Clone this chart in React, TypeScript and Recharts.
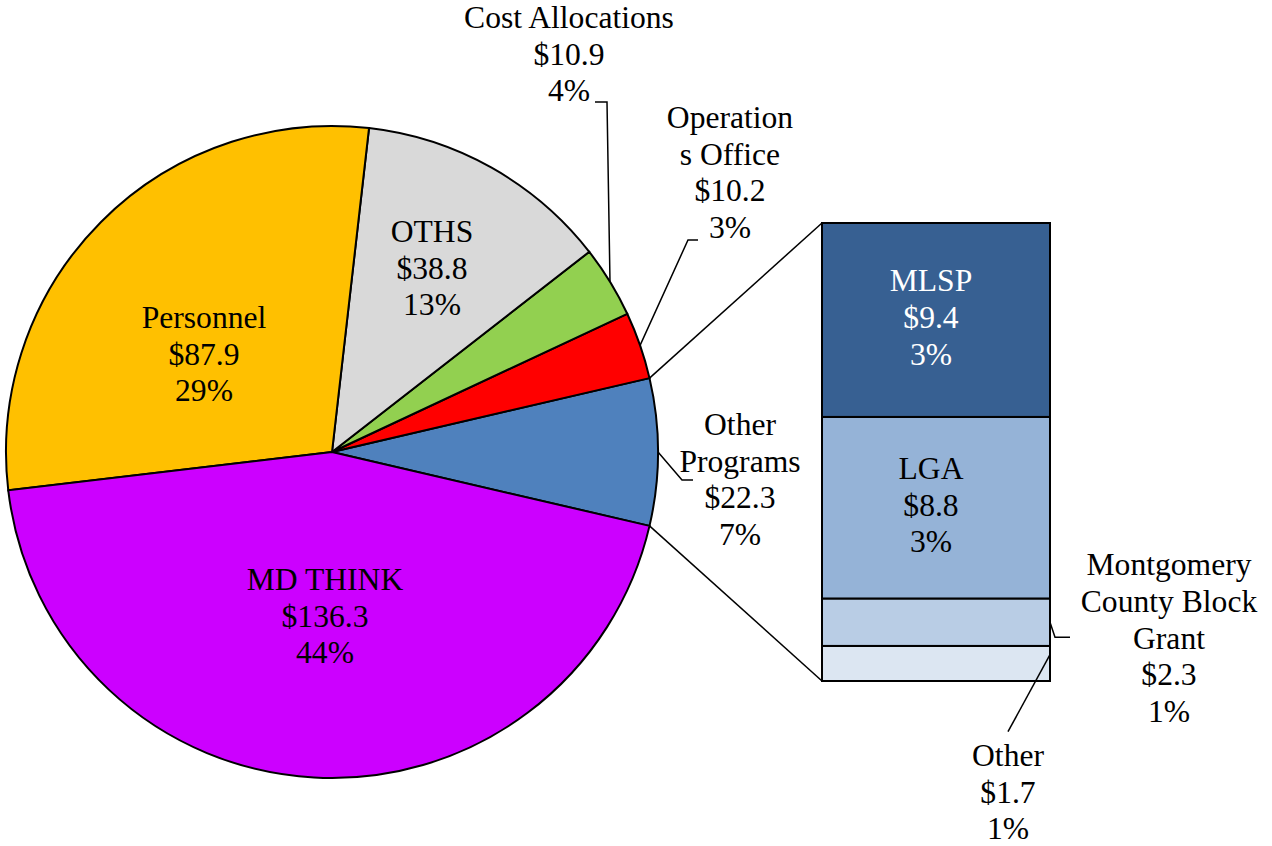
import React from 'react';
import { PieChart, Pie, Cell, BarChart, Bar, XAxis, YAxis } from 'recharts';

// pie slices, counter-clockwise from the split slice on the right
const pieNames = ['Other Programs', 'Operations Office', 'Cost Allocations', 'OTHS', 'Personnel', 'MD THINK'];
const pieValues = [22.3, 10.2, 10.9, 38.8, 87.9, 136.3];
const pieLabelLines = [['Other', 'Programs'], ['Operation', 's Office'], ['Cost Allocations'], ['OTHS'], ['Personnel'], ['MD THINK']];
const pieColors = ['#4f81bd', '#ff0000', '#92d050', '#d9d9d9', '#ffc000', '#cc00ff'];

// breakdown of "Other Programs", bottom to top
const barNames = ['Other', 'Montgomery County Block Grant', 'LGA', 'MLSP'];
const barValues = [1.7, 2.3, 8.8, 9.4];
const barLabelLines = [['Other'], ['Montgomery', 'County Block', 'Grant'], ['LGA'], ['MLSP']];
const barColors = ['#dce6f2', '#b9cde5', '#95b3d7', '#376092'];

const W = 1272;
const H = 846;
const PIE_CX = 332;
const PIE_CY = 452;
const PIE_R = 326;
const FONT = 31.6;
const LINE_H = 36.7;
const FAMILY = "'Liberation Serif', 'Times New Roman', Tinos, 'DejaVu Serif', serif";

const total = pieValues.reduce((a, b) => a + b, 0);
const barTotal = barValues.reduce((a, b) => a + b, 0);
const money = (v: number) => `$${v.toFixed(1)}`;
const pct = (v: number) => `${Math.round((v / total) * 100)}%`;

const splitSweep = (pieValues[0] / total) * 360;
const START = -splitSweep / 2;

const pieData = pieNames.map((name, i) => ({ name, value: pieValues[i] }));
const barRow: Record<string, any> = { name: pieNames[0] };
barNames.forEach((_, i) => { barRow[`s${i}`] = barValues[i]; });

// label anchors relative to the pie centre (first baseline), plus leader elbows
const pieLabelPos: { dx: number; dy: number; leader?: [number, number][] }[] = [
  { dx: 408, dy: -17, leader: [[350, 28], [361, 28]] },
  { dx: 398, dy: -324, leader: [[356, -212], [366, -212]] },
  { dx: 237, dy: -424, leader: [[275, -350], [263, -350]] },
  { dx: 100, dy: -210 },
  { dx: -128, dy: -124 },
  { dx: -7, dy: 138 },
];

const polar = (deg: number, r: number) => {
  const rad = (-deg * Math.PI) / 180;
  return [PIE_CX + r * Math.cos(rad), PIE_CY + r * Math.sin(rad)];
};

const TextBlock = ({ x, y, lines, fill = '#000' }: { x: number; y: number; lines: string[]; fill?: string }) => (
  <text x={x} y={y} textAnchor="middle" style={{ fontFamily: FAMILY, fontSize: FONT }} fill={fill}>
    {lines.map((l, k) => (
      <tspan key={k} x={x} dy={k === 0 ? 0 : LINE_H}>{l}</tspan>
    ))}
  </text>
);

const renderPieLabel = (p: any) => {
  const i = p.index;
  const lay = pieLabelPos[i];
  const lines = [...pieLabelLines[i], money(pieValues[i]), pct(pieValues[i])];
  let leader = null;
  if (lay.leader) {
    const [sx, sy] = polar(p.midAngle, PIE_R);
    const pts = [[sx, sy], ...lay.leader.map(([a, b]) => [PIE_CX + a, PIE_CY + b])];
    leader = <polyline points={pts.map((q) => q.join(',')).join(' ')} fill="none" stroke="#000" strokeWidth={1.5} />;
  }
  return (
    <g key={`pl-${i}`}>
      {leader}
      <TextBlock x={PIE_CX + lay.dx} y={PIE_CY + lay.dy} lines={lines} />
    </g>
  );
};

const makeBarShape = (i: number) => (p: any) => {
  const { x, y, width, height } = p;
  const right = x + width;
  const lines = [...barLabelLines[i], money(barValues[i]), pct(barValues[i])];
  let content = null;
  if (i >= 2) {
    content = (
      <TextBlock x={x + width / 2 - 5} y={y + height / 2 - LINE_H + 8} lines={lines} fill={i === 3 ? '#fff' : '#000'} />
    );
  } else if (i === 1) {
    const my = y + height / 2;
    content = (
      <g>
        <polyline points={`${right},${my} ${right + 5},${my + 15} ${right + 20},${my + 15}`} fill="none" stroke="#000" strokeWidth={1.5} />
        <TextBlock x={right + 119} y={my - 47} lines={lines} />
      </g>
    );
  } else {
    const sy = y + height * 0.25;
    content = (
      <g>
        <line x1={right} y1={sy} x2={right - 42} y2={sy + 77} stroke="#000" strokeWidth={1.5} />
        <TextBlock x={right - 42} y={y + 120} lines={lines} />
      </g>
    );
  }
  let connector = null;
  if (i === 3) {
    const [px, py] = polar(START + splitSweep, PIE_R);
    connector = <line x1={px} y1={py} x2={x} y2={y} stroke="#000" strokeWidth={1.5} />;
  } else if (i === 0) {
    const [px, py] = polar(START, PIE_R);
    connector = <line x1={px} y1={py} x2={x} y2={y + height} stroke="#000" strokeWidth={1.5} />;
  }
  return (
    <g>
      {connector}
      <rect x={x} y={y} width={width} height={height} fill={barColors[i]} stroke="#000" strokeWidth={2} />
      {content}
    </g>
  );
};

export default function App() {
  return (
    <div style={{ position: 'absolute', left: 0, top: 0, width: W, height: H, background: '#fff', fontFamily: FAMILY }}>
      <div style={{ position: 'absolute', left: 0, top: 0 }}>
        <PieChart width={W} height={H} margin={{ top: 0, right: 0, bottom: 0, left: 0 }}>
          <Pie
            data={pieData}
            dataKey="value"
            nameKey="name"
            cx={PIE_CX}
            cy={PIE_CY}
            outerRadius={PIE_R}
            startAngle={START}
            endAngle={START + 360}
            stroke="#000"
            strokeWidth={2}
            label={renderPieLabel}
            labelLine={false}
            isAnimationActive={false}
          >
            {pieData.map((d, i) => (
              <Cell key={d.name} fill={pieColors[i]} />
            ))}
          </Pie>
        </PieChart>
      </div>
      <div style={{ position: 'absolute', left: 0, top: 0 }}>
        <BarChart
          width={W}
          height={H}
          data={[barRow]}
          margin={{ top: 223, right: 222, bottom: 165, left: 822 }}
          barCategoryGap={0}
        >
          <XAxis dataKey="name" hide />
          <YAxis hide domain={[0, barTotal]} />
          {barNames.map((n, i) => (
            <Bar key={n} dataKey={`s${i}`} name={n} stackId="a" shape={makeBarShape(i)} isAnimationActive={false} />
          ))}
        </BarChart>
      </div>
    </div>
  );
}
